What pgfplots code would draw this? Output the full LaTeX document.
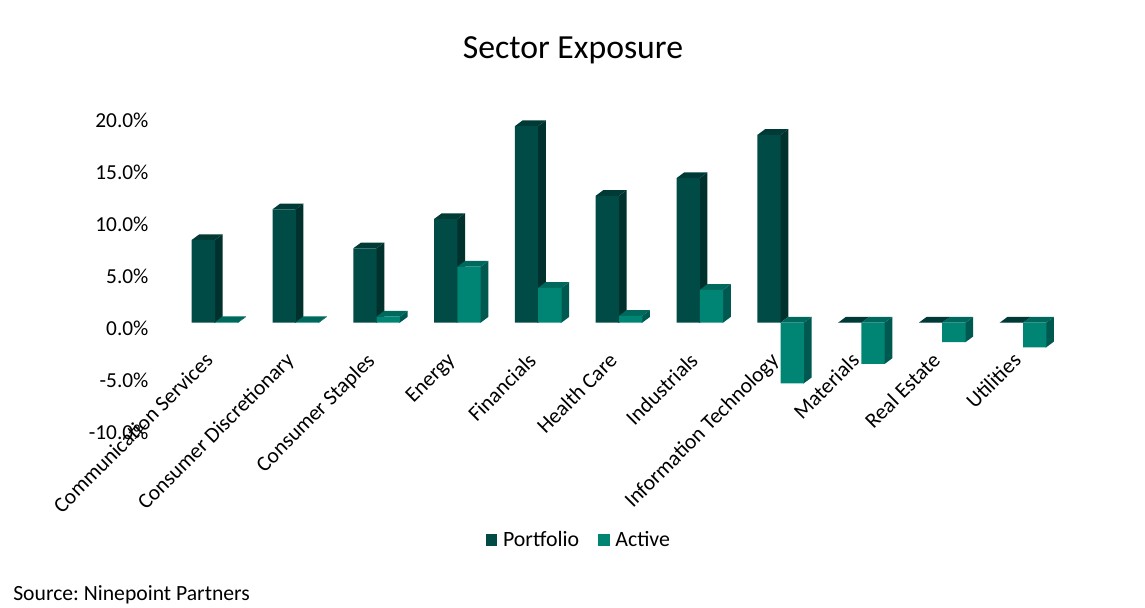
\documentclass[border=0pt]{standalone}
\usepackage{fontspec}
\setmainfont{Carlito}
\usepackage{pgfplots}
\usepackage{pgfplotstable}
\pgfplotsset{compat=1.18}
\definecolor{pf}{HTML}{004B45}
\definecolor{pside}{HTML}{00312D}
\definecolor{ptop}{HTML}{003A36}
\definecolor{af}{HTML}{008575}
\definecolor{aside}{HTML}{005950}
\definecolor{atop}{HTML}{00695D}
\pgfplotstableread{
i Portfolio Active
0 7.95 0.05
1 10.90 0.05
2 7.15 0.58
3 9.97 5.38
4 18.90 3.35
5 12.20 0.65
6 13.90 3.15
7 18.05 -5.83
8 0.00 -3.97
9 0.00 -1.88
10 0.00 -2.37
}\sectordata
% top and side faces of a bar: #1 group, #2 value, #3 left offset, #4 side colour, #5 top colour
\newcommand{\faces}[5]{%
  \addplot[fill=#4,draw=none,forget plot] coordinates {(#1+#3+0.278,#2) (#1+#3+0.288,#2) (#1+#3+0.383,#2+0.55) (#1+#3+0.383,0.55) (#1+#3+0.288,0) (#1+#3+0.278,0)} -- cycle;
  \addplot[fill=#5,draw=none,forget plot] coordinates {(#1+#3,{max(#2,0)}) (#1+#3+0.095,{max(#2,0)+0.55}) (#1+#3+0.383,{max(#2,0)+0.55}) (#1+#3+0.288,{max(#2,0)})} -- cycle;
}
\begin{document}
\frenchspacing
\begin{tikzpicture}
\begin{axis}[
  scale only axis,
  width=690pt,height=234pt,
  xmin=-0.804,xmax=10.58,ymin=-10,ymax=20,
  clip=false,
  axis line style={draw=none},
  major tick length=0pt,
  tick style={draw=none},
  ytick={-10,-5,0,5,10,15,20},
  yticklabels={-10.0\%,-5.0\%,0.0\%,5.0\%,10.0\%,15.0\%,20.0\%},
  y tick label style={font=\fontsize{16}{19}\selectfont,anchor=east,xshift=0pt,yshift=-4.5pt,inner xsep=1pt},
  xtick={0,...,10},
  xticklabels={Communication Services,Consumer Discretionary,Consumer Staples,Energy,Financials,Health Care,Industrials,Information Technology,Materials,Real Estate,Utilities},
  x tick label style={font=\fontsize{16.2}{19}\selectfont,xshift=-8.5pt,yshift=56.7pt,rotate=45,anchor=north east,inner sep=0pt},
  legend columns=2,
  legend style={draw=none,fill=none,at={(axis cs:4.51,-20.9)},anchor=center,font=\fontsize{16.4}{19}\selectfont,/tikz/every even column/.append style={column sep=12.5pt},/tikz/every odd column/.append style={column sep=2.2pt}},
  legend image code/.code={\fill[#1] (0pt,-4.2pt) rectangle (8.5pt,4.2pt);},
]
\faces{0}{7.95}{-0.288}{pside}{ptop}
\faces{1}{10.90}{-0.288}{pside}{ptop}
\faces{2}{7.15}{-0.288}{pside}{ptop}
\faces{3}{9.97}{-0.288}{pside}{ptop}
\faces{4}{18.90}{-0.288}{pside}{ptop}
\faces{5}{12.20}{-0.288}{pside}{ptop}
\faces{6}{13.90}{-0.288}{pside}{ptop}
\faces{7}{18.05}{-0.288}{pside}{ptop}
\faces{8}{0}{-0.288}{pside}{ptop}
\faces{9}{0}{-0.288}{pside}{ptop}
\faces{10}{0}{-0.288}{pside}{ptop}
\addplot[ybar,bar width=17.475pt,bar shift=-8.7375pt,fill=pf,draw=none] table[x=i,y=Portfolio] {\sectordata};
\addlegendentry{Portfolio}
\faces{0}{0.05}{0}{aside}{atop}
\faces{1}{0.05}{0}{aside}{atop}
\faces{2}{0.58}{0}{aside}{atop}
\faces{3}{5.38}{0}{aside}{atop}
\faces{4}{3.35}{0}{aside}{atop}
\faces{5}{0.65}{0}{aside}{atop}
\faces{6}{3.15}{0}{aside}{atop}
\faces{7}{-5.83}{0}{aside}{atop}
\faces{8}{-3.97}{0}{aside}{atop}
\faces{9}{-1.88}{0}{aside}{atop}
\faces{10}{-2.37}{0}{aside}{atop}
\addplot[ybar,bar width=17.475pt,bar shift=8.7375pt,fill=af,draw=none] table[x=i,y=Active] {\sectordata};
\addlegendentry{Active}
\node[font=\fontsize{25.3}{30}\selectfont,anchor=center] at (axis cs:4.43,26.2) {Sector Exposure};
\node[font=\fontsize{16.25}{19}\selectfont,anchor=west,inner sep=0pt] at (axis cs:-2.5,-26.15) {Source: Ninepoint Partners};
\coordinate (A) at (axis cs:-2.661,31.03);
\coordinate (B) at (axis cs:11.51,-27.43);
\end{axis}
\path[use as bounding box] (A) rectangle (B);
\end{tikzpicture}
\end{document}
